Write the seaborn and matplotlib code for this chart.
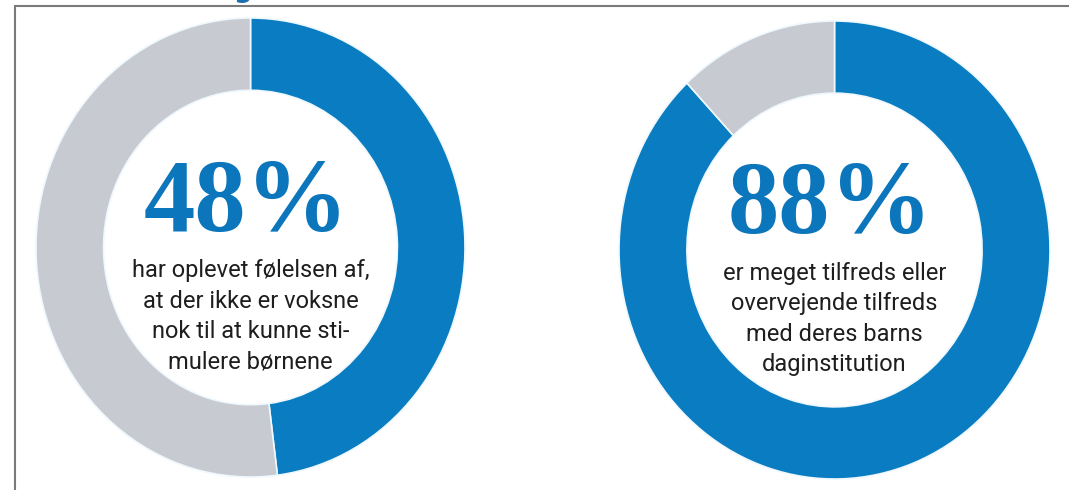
import matplotlib.pyplot as plt
import seaborn as sns
from matplotlib.lines import Line2D

sns.set_theme(style="white")
plt.rcParams['font.family'] = ['Roboto', 'DejaVu Sans']

# data
labels = ["ja", "nej"]
left_values = [48, 52]
right_values = [88, 12]
left_big = "48%"
right_big = "88%"
left_lines = ["har oplevet følelsen af,", "at der ikke er voksne",
              "nok til at kunne sti-", "mulere børnene"]
right_lines = ["er meget tilfreds eller", "overvejende tilfreds",
               "med deres barns", "daginstitution"]

blue = "#0a7cc1"
grey = "#c8cad2"
seam = "#eef8fd"

W, H = 1069, 490
fig = plt.figure(figsize=(W / 100, H / 100), dpi=100)
fig.patch.set_facecolor("white")


def donut(rect, values, big, lines, big_y):
    ax = fig.add_axes(rect)
    ax.pie(values, colors=[blue, grey], startangle=90, counterclock=False,
           radius=1, wedgeprops=dict(width=0.315, edgecolor=seam, linewidth=1.2))
    ax.set_aspect("auto")
    ax.set_xlim(-1, 1)
    ax.set_ylim(-1, 1)
    ax.axis("off")
    ax.text(-0.02, big_y, big, ha="center", va="baseline", color="#0b76bb",
            fontsize=74, fontweight="bold", family=["Liberation Serif", "DejaVu Serif"])
    for i, line in enumerate(lines):
        ax.text(0, -0.13 - i * 0.133, line, ha="center", va="baseline",
                color="#1e1e1e", fontsize=17)
    return ax


donut([36 / W, 13 / H, 429 / W, 459 / H], left_values, left_big, left_lines, 0.07)
donut([619 / W, 11 / H, 431 / W, 458 / H], right_values, right_big, right_lines, 0.075)

# frame lines at top and left
fig.add_artist(Line2D([15 / W, 1], [1 - 6 / H, 1 - 6 / H], color="#7a7a7a", lw=1.5,
                      transform=fig.transFigure))
fig.add_artist(Line2D([15 / W, 15 / W], [0, 1 - 6 / H], color="#7a7a7a", lw=1.5,
                      transform=fig.transFigure))

# cut-off heading fragment above the frame
fig.text(243 / W, 1 + 3 / H, "g", ha="center", va="baseline", color="#1b6fae",
         fontsize=19, fontweight="bold", family=["DejaVu Sans"])

fig.savefig("out.png", dpi=100, facecolor="white")
